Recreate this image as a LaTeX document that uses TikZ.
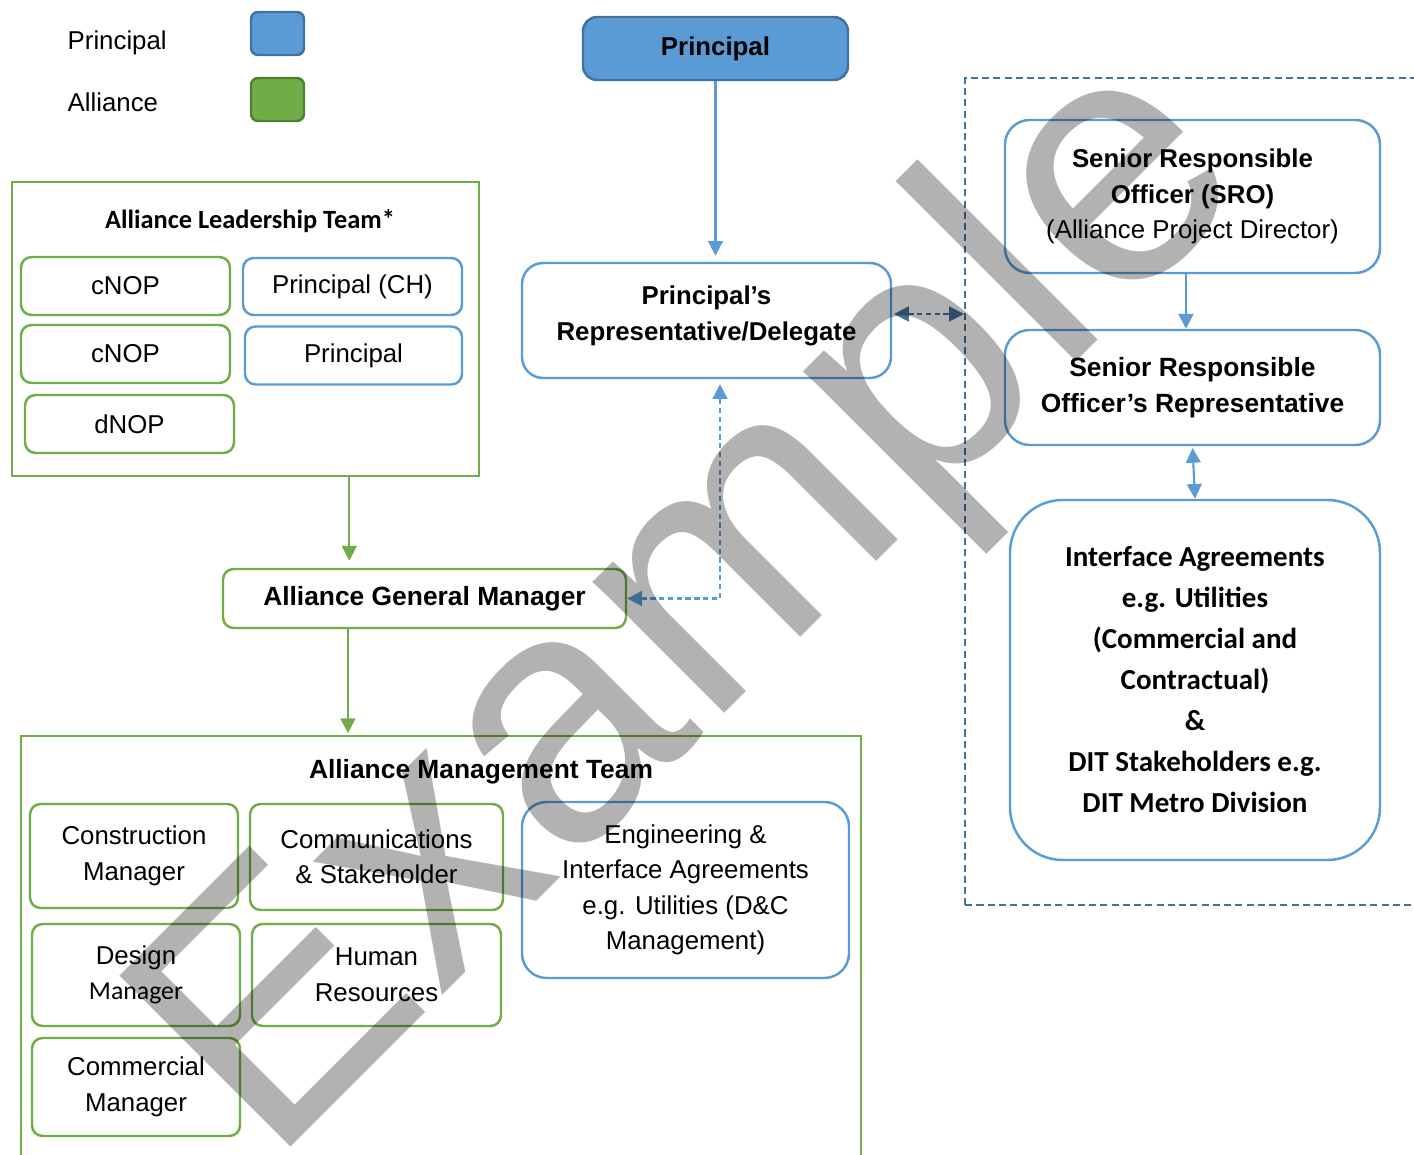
\documentclass[tikz,border=0pt]{standalone}
\usepackage{fontspec}
\setmainfont{Liberation Sans}
\newfontfamily\calfont{Carlito}
\newfontfamily\wmfont[LetterSpace=1.2]{Liberation Sans}
\usetikzlibrary{arrows.meta,positioning}
\definecolor{pblue}{HTML}{5B9BD5}
\definecolor{pdark}{HTML}{41719C}
\definecolor{agreen}{HTML}{70AD47}
\definecolor{adark}{HTML}{507E32}
\tikzset{>={Triangle[length=4.2pt,width=4.2pt]},
  every node/.style={inner sep=0pt, align=center, font=\fontsize{7.34}{10.1}\selectfont},
  wh/.style 2 args={minimum width=#1*0.01cm, minimum height=#2*0.01cm},
  gbox/.style={draw=agreen, line width=0.7pt, rounded corners=3pt},
  bbox/.style={draw=pblue, line width=0.7pt, rounded corners=3pt},
  swatch/.style={line width=0.7pt, rounded corners=2pt},
  frm/.style={draw=agreen, line width=0.7pt},
  garr/.style={draw=agreen, line width=0.6pt, ->},
  barr/.style={draw=pblue, line width=0.6pt, ->},
  dsh/.style={dash pattern=on 1.5pt off 1pt},
  hd/.style={font=\fontsize{7.34}{10.1}\selectfont\bfseries},
  hdw/.style={font=\fontsize{7.5}{10.1}\selectfont\bfseries},
  cb/.style={font=\fontsize{7.5}{11.66}\selectfont\calfont\bfseries}}
\begin{document}
\begin{tikzpicture}[x=0.01cm, y=-0.01cm]
  \useasboundingbox (0,0) rectangle (1414,1155);
  \begin{scope}
  \clip (0,0) rectangle (1414,1155);
  \node (lp) [anchor=west] at (67,43) {Principal};
  \node (lpsw) [swatch, draw=pdark, fill=pblue, wh={53}{43}] at (277.5,33.5) {};
  \node (la) [anchor=west] at (67,102) {Alliance};
  \node (lasw) [swatch, draw=adark, fill=agreen, wh={53}{43}] at (277.5,99.5) {};

  \node (pr) [bbox, draw=pdark, fill=pblue, rounded corners=4pt, wh={265}{63}, hd] at (715.5,48.5) {Principal};
  \node (prd) [bbox, rounded corners=6pt, wh={369}{115}] at (706.5,320.5) {};
  \node (prdt) [hd] at (706.5,316) {Principal’s\\Representative/Delegate};

  \node (grp) [draw=pdark, line width=0.7pt, dash pattern=on 2pt off 1.2pt, wh={600}{827}, anchor=north west] at (964,77) {};
  \node (sro) [bbox, rounded corners=7pt, wh={375}{153}] at (1192.5,196.5)
    {\textbf{Senior Responsible}\\\textbf{Officer (SRO)}\\(Alliance Project Director)};
  \node (sror) [bbox, rounded corners=7pt, wh={375}{115}, hdw] at (1192.5,387.5)
    {Senior Responsible\\Officer’s Representative};
  \node (ifa) [bbox, rounded corners=15pt, wh={370}{360}, cb, font=\fontsize{8.25}{11.66}\selectfont\calfont\bfseries] at (1195,680)
    {Interface Agreements\\e.g. Utilities\\(Commercial and\\Contractual)\\\&\\DIT Stakeholders e.g.\\DIT Metro Division};

  \node (alt) [frm, wh={467}{294}, anchor=north west] at (11,181) {};
  \node (altt) [cb] at (250,221) {Alliance Leadership Team*};
  \node (c1) [gbox, wh={209}{58}] at (125.5,286) {cNOP};
  \node (pch) [bbox, wh={219}{57}] at (352.5,286.5) {Principal (CH)};
  \node (c2) [gbox, wh={209}{58}] at (125.5,354) {cNOP};
  \node (pp) [bbox, wh={217}{58}] at (353.5,355.5) {Principal};
  \node (dn) [gbox, wh={209}{58}] at (129.5,424) {dNOP};

  \node (agm) [gbox, wh={403}{59}, hdw] at (424.5,598.5) {Alliance General Manager};

  \node (amt) [frm, wh={840}{500}, anchor=north west] at (20,735) {};
  \node (amtt) [hdw] at (481,772) {Alliance Management Team};
  \node (cm) [gbox, wh={208}{104}] at (134,856) {Construction\\Manager};
  \node (cs) [gbox, wh={253}{106}] at (376.5,857) {Communications\\\& Stakeholder};
  \node (dm) [gbox, wh={208}{102}] at (136,975) {Design\\{\calfont Manager}};
  \node (hr) [gbox, wh={249}{102}] at (376.5,975) {Human\\Resources};
  \node (cmm) [gbox, wh={208}{98}] at (136,1087) {Commercial\\Manager};
  \node (eng) [bbox, rounded corners=7pt, wh={327}{176}] at (685.5,890)
    {Engineering \&\\Interface Agreements\\e.g. Utilities (D\&C\\Management)};

  \draw[barr, shorten >=1.7pt] (pr) -- (pr |- prd.north);
  \draw[barr] ([xshift=-0.065cm]sro.south) -- ([xshift=-0.065cm]sror.north);
  \draw[barr, <->, shorten <=0.5pt] (sror.south) -- (ifa.north);
  \draw[garr, shorten >=2pt] ([xshift=1.035cm]alt.south) -- ([xshift=1.035cm]alt.south |- agm.north);
  \draw[garr, shorten >=0.5pt] ([xshift=-0.765cm]agm.south) -- ([xshift=-0.765cm]agm.south |- amt.north);
  \draw[barr, dsh, <->, shorten >=1.4pt] (agm.east) -| ([xshift=0.135cm]prd.south);
  \draw[barr, draw=pdark, dsh, <->, shorten <=0.5pt] ([yshift=0.065cm]prd.east) -- ([yshift=0.065cm]prd.east -| grp.west);

  \node (wm) [rotate=45, anchor=base west, font=\fontsize{100}{100}\selectfont\wmfont, text=black, text opacity=0.3] at (270,1168) {Example};
  \end{scope}
\end{tikzpicture}
\end{document}
